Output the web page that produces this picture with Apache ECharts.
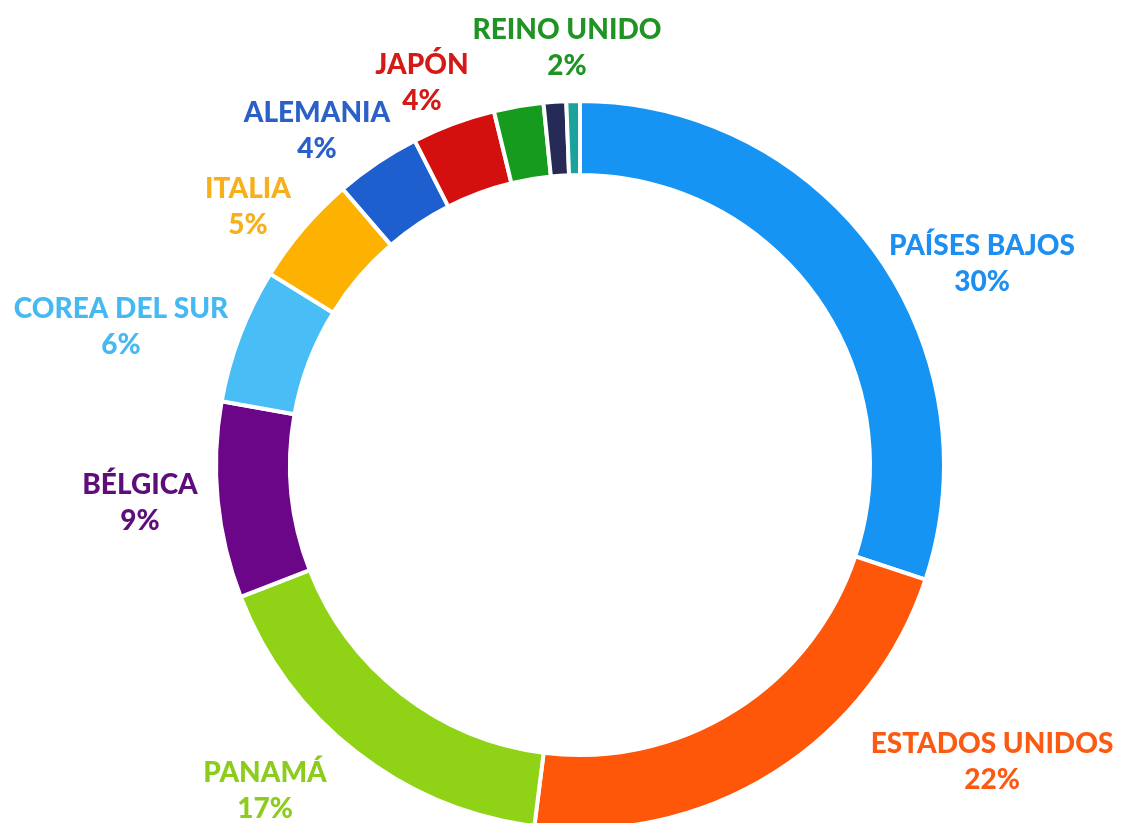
<!DOCTYPE html>
<html>
<head>
<meta charset="utf-8">
<title>Destinos de exportación</title>
<script src="https://cdn.jsdelivr.net/npm/echarts@6/dist/echarts.min.js"></script>
<style>
  html, body { margin: 0; padding: 0; background: #fff; }
  #donut { width: 1127px; height: 823px; }
</style>
</head>
<body>
<div id="donut"></div>
<script>
// Data (share of total, %), clockwise from 12 o'clock
var countries = ['PAÍSES BAJOS', 'ESTADOS UNIDOS', 'PANAMÁ', 'BÉLGICA', 'COREA DEL SUR',
                 'ITALIA', 'ALEMANIA', 'JAPÓN', 'REINO UNIDO', 'OTROS 1', 'OTROS 2'];
var shares = [30.1, 21.9, 17.1, 8.7, 6, 4.9, 3.8, 3.7, 2.2, 1.0, 0.6];
var showLabel = [true, true, true, true, true, true, true, true, true, false, false];

var colors = ['#1594f4', '#ff570a', '#90d316', '#6a0687', '#48bdf6',
              '#fdb202', '#1d5fcf', '#d4100f', '#179b1f', '#262a56', '#1aa39b'];
var labelColors = ['#1d8ff0', '#fb5a12', '#8ccc1c', '#5d0e78', '#47b9f2',
                   '#f8b01a', '#2a60c8', '#d31a17', '#1f9424', '#262a56', '#1aa39b'];

// Label block centres (px)
var labelAnchor = [
    [982, 264], [992, 762], [265, 791], [140, 503], [121, 327],
    [248, 207], [317, 131], [422, 83], [567, 48], [0, 0], [0, 0]
];

var chartEl = document.getElementById('donut');
var chart = echarts.init(chartEl);

var pieData = [];
for (var i = 0; i < countries.length; i++) {
    var txt = { color: labelColors[i], fontSize: 28, fontWeight: 900, fontFamily: 'Lato', lineHeight: 36 };
    pieData.push({
        name: countries[i],
        value: shares[i],
        itemStyle: { color: colors[i] },
        label: {
            show: showLabel[i],
            rich: { n: txt, p: txt }
        }
    });
}

chart.setOption({
    animation: false,
    series: [{
        type: 'pie',
        center: [580, 465],
        radius: [290, 364],
        startAngle: 90,
        clockwise: true,
        percentPrecision: 0,
        avoidLabelOverlap: false,
        emphasis: { disabled: true },
        itemStyle: {
            borderColor: '#ffffff',
            borderWidth: 4
        },
        label: {
            position: 'outside',
            formatter: '{n|{b}}\n{p|{d}%}',
            align: 'center'
        },
        labelLine: { show: false },
        labelLayout: function (params) {
            var a = labelAnchor[params.dataIndex];
            return { x: a[0], y: a[1], align: 'center', verticalAlign: 'middle' };
        },
        data: pieData
    }]
});

window.addEventListener('resize', function () {
    chart.resize();
});
</script>
</body>
</html>
